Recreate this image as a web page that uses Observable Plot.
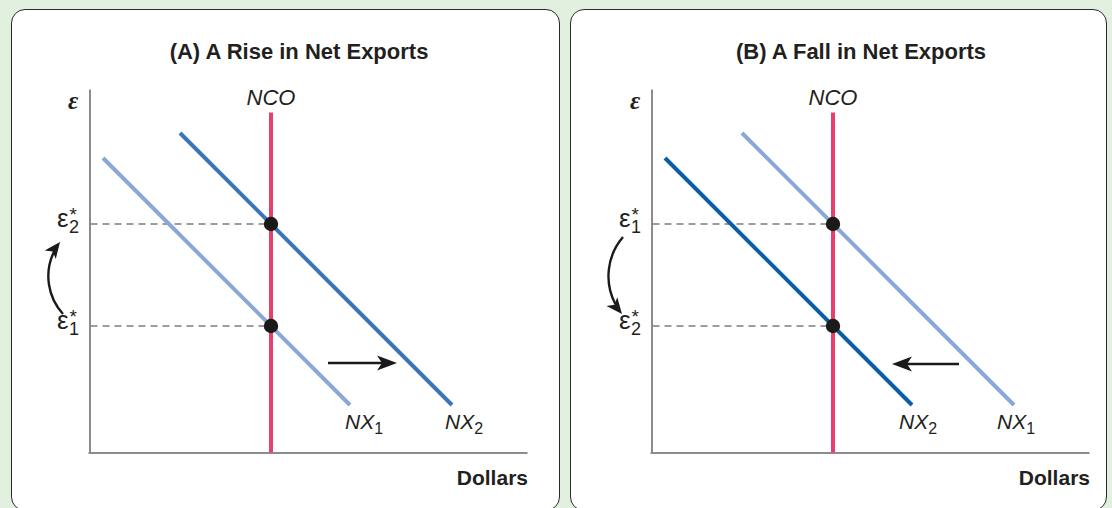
<!DOCTYPE html>
<html><head><meta charset="utf-8">
<script src="https://cdn.jsdelivr.net/npm/d3@7"></script>
<script src="https://cdn.jsdelivr.net/npm/@observablehq/plot@0.6"></script>
<style>
html,body{margin:0;padding:0;background:#e1f0df;width:1112px;height:508px;overflow:hidden;font-family:"Liberation Sans",Arial,sans-serif;}
.panel{position:absolute;top:9px;height:502px;box-sizing:border-box;border:1.5px solid #2a2a2a;border-radius:14px;background:#fff;overflow:hidden;}
.panel svg{position:absolute;left:0;top:0;}
</style></head><body>
<div id="A" class="panel" style="left:11px;width:549px"></div>
<div id="B" class="panel" style="left:570px;width:537px"></div>
<script>
// ---- chart content ----
const titles = ["(A) A Rise in Net Exports", "(B) A Fall in Net Exports"];
const yAxisLabel = "ε";
const xAxisLabel = "Dollars";
const ncoLabel = "NCO";
const xMax = 438, yMax = 363;           // extent of both axes (schematic units)
const ncoQuantity = 181;                // vertical NCO line
const ncoTop = 340;
const rateLevels = [127, 229];          // equilibrium exchange rates (low, high)
const nxLowX = [13, 260];               // inner NX curve
const nxLowY = [295, 48];
const nxHighX = [90, 362];              // outer NX curve
const nxHighY = [320, 48];
// panel A: low = NX1, high = NX2 ; panel B: low = NX2, high = NX1
const lowSubscripts = ["1", "2"];
const highSubscripts = ["2", "1"];
const lowLabelX = [255, 247];
const highLabelX = [355, 345];
const curveLabelY = 31;
const rateLowSubscripts = ["1", "2"];
const rateHighSubscripts = ["2", "1"];
const shiftFrom = [238, 307];
const shiftTo = [307, 240];
const shiftY = [90, 89];
const curveFromX = [-27, -29], curveFromY = [139, 216];
const curveToX = [-30, -30], curveToY = [211, 139];
const curveBend = [40, -40];

// ---- styles ----
const lightBlue = "#89a8d9";
const highColors = ["#3a74bb", lightBlue];
const lowColors = [lightBlue, "#0b5dab"];
const ncoColor = "#e8406a";
const ink = "#231f20";
const axisGray = "#8c8c8c";
const font = "Liberation Sans, Arial, sans-serif";

function stealth(len, half, notch) {
  return {draw(ctx) {
    ctx.moveTo(0, 0); ctx.lineTo(half, len); ctx.lineTo(0, len - notch);
    ctx.lineTo(-half, len); ctx.closePath();
  }};
}
const headBig = stealth(20, 7.5, 5), headSmall = stealth(16, 7, 4);

function panel(i, geom) {
  const low = nxLowX.map((x, k) => ({x, y: nxLowY[k]}));
  const high = nxHighX.map((x, k) => ({x, y: nxHighY[k]}));
  const nxLabels = [
    {x: lowLabelX[i], y: curveLabelY, sub: lowSubscripts[i]},
    {x: highLabelX[i], y: curveLabelY, sub: highSubscripts[i]}
  ];
  const rateLabels = [
    {y: rateLevels[0], sub: rateLowSubscripts[i]},
    {y: rateLevels[1], sub: rateHighSubscripts[i]}
  ];
  const curve = [{x1: curveFromX[i], y1: curveFromY[i], x2: curveToX[i], y2: curveToY[i]}];
  const shift = [{x1: shiftFrom[i], x2: shiftTo[i], y: shiftY[i]}];
  const c = curve[0];
  const chord = Math.atan2(c.x2 - c.x1, c.y2 - c.y1) * 180 / Math.PI;
  const headRot = chord + curveBend[i];
  const shiftRot = shiftTo[i] > shiftFrom[i] ? 90 : -90;
  const txt = {fill: ink, fontFamily: font, stroke: null};
  const svg = Plot.plot({
    width: geom.width, height: geom.height,
    marginLeft: geom.left, marginRight: geom.right, marginTop: geom.top, marginBottom: geom.bottom,
    x: {domain: [0, xMax], axis: null},
    y: {domain: [0, yMax], axis: null},
    style: {background: "transparent", overflow: "visible", fontFamily: font},
    marks: [
      Plot.ruleX([0], {y1: 0, y2: yMax, stroke: axisGray, strokeWidth: 2}),
      Plot.ruleY([0], {x1: -1, x2: xMax, stroke: axisGray, strokeWidth: 2}),
      Plot.ruleY(rateLevels, {x1: 1, x2: ncoQuantity, stroke: "#7d7d7d", strokeWidth: 1.6, strokeDasharray: "7,5"}),
      Plot.line(low, {x: "x", y: "y", stroke: lowColors[i], strokeWidth: 4, strokeLinecap: "butt"}),
      Plot.line(high, {x: "x", y: "y", stroke: highColors[i], strokeWidth: 4, strokeLinecap: "butt"}),
      Plot.ruleX([ncoQuantity], {y1: 0, y2: ncoTop, stroke: ncoColor, strokeWidth: 4}),
      Plot.dot(rateLevels, {x: ncoQuantity, y: d => d, r: 7.2, fill: "#1a1a1a", stroke: null}),
      Plot.arrow(shift, {x1: "x1", x2: "x2", y1: "y", y2: "y", headLength: 0, insetEnd: 15, stroke: "#1a1a1a", strokeWidth: 2.4, strokeLinecap: "butt"}),
      Plot.dot(shift, {x: "x2", y: "y", symbol: headBig, rotate: shiftRot, fill: "#1a1a1a", stroke: null}),
      Plot.arrow(curve, {x1: "x1", y1: "y1", x2: "x2", y2: "y2", bend: curveBend[i], headLength: 0, insetEnd: 12, stroke: "#1a1a1a", strokeWidth: 2.4, strokeLinecap: "butt"}),
      Plot.dot(curve, {x: "x2", y: "y2", symbol: headSmall, rotate: headRot, fill: "#1a1a1a", stroke: null}),
      Plot.text([titles[i]], {x: 209, y: 401, text: d => d, fontSize: 22, fontWeight: "bold", ...txt}),
      Plot.text([yAxisLabel], {x: -17, y: 352, text: d => d, fontSize: 25, fontWeight: "bold", fontStyle: "italic", ...txt, fontFamily: "Liberation Serif, serif"}),
      Plot.text([ncoLabel], {x: ncoQuantity, y: 355, text: d => d, fontSize: 22, fontStyle: "italic", ...txt}),
      Plot.text([xAxisLabel], {x: xMax, y: -25, text: d => d, textAnchor: "end", fontSize: 21, fontWeight: "bold", ...txt}),
      Plot.text(nxLabels, {x: "x", y: "y", text: () => "NX", textAnchor: "start", fontSize: 21, fontStyle: "italic", className: "nxlab", ...txt}),
      Plot.text(rateLabels, {x: -33, y: "y", text: () => "ε", textAnchor: "start", dy: -5, fontSize: 26, className: "ratelab", ...txt})
    ]
  });
  svg.__nx = nxLabels; svg.__rate = rateLabels;
  return svg;
}

function decorate(svg) {
  d3.select(svg).selectAll("g.nxlab text").each(function(k) {
    const d = svg.__nx[k];
    d3.select(this).append("tspan").attr("font-size", 16).attr("font-style", "normal")
      .attr("dy", 5).attr("dx", 0).text(d.sub);
  });
  d3.select(svg).selectAll("g.ratelab text").each(function(k) {
    const d = svg.__rate[k];
    const t = d3.select(this);
    const star = t.append("tspan").attr("font-size", 19).attr("dy", -6).attr("dx", 1).text("*");
    const w = star.node().getComputedTextLength();
    t.append("tspan").attr("font-size", 18).attr("dy", 12).attr("dx", -w - 0.5).text(d.sub);
  });
}

const svgA = panel(0, {width: 546, height: 499, left: 77.5, right: 30.5, top: 79.5, bottom: 56.5});
const svgB = panel(1, {width: 534, height: 499, left: 80.5, right: 15.5, top: 79.5, bottom: 56.5});
document.getElementById("A").appendChild(svgA);
document.getElementById("B").appendChild(svgB);
decorate(svgA); decorate(svgB);
</script>
</body></html>
